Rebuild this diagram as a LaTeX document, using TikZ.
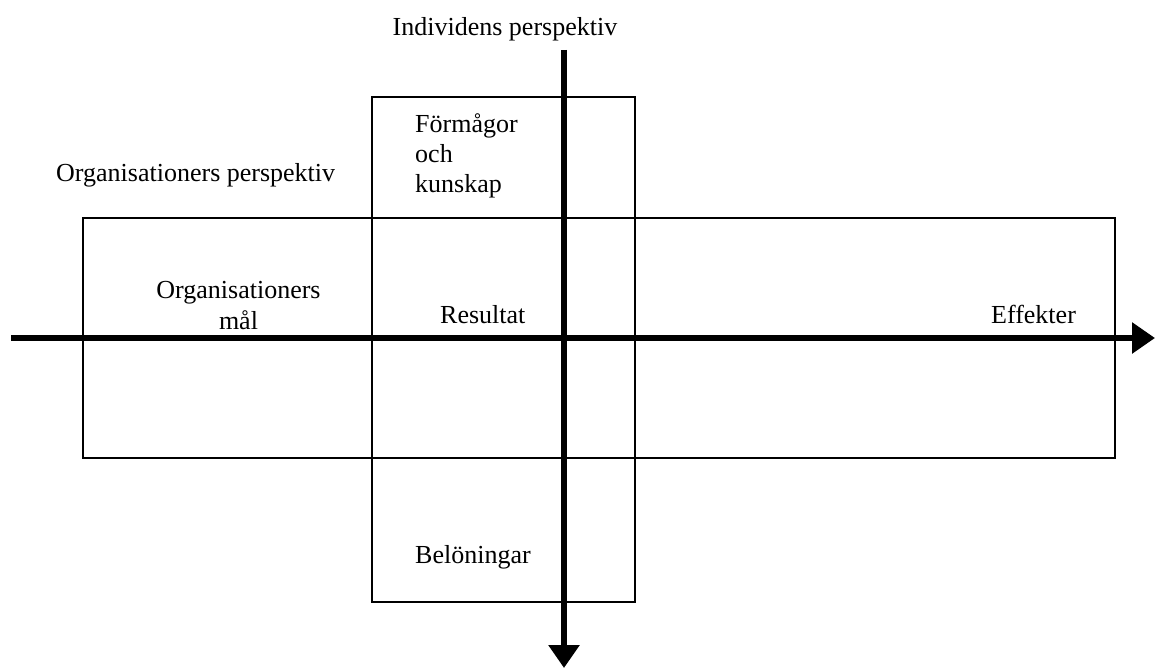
\documentclass[tikz,border=0pt]{standalone}
\usepackage{fontspec}
\setmainfont{Liberation Serif}
\usetikzlibrary{arrows.meta}
\begin{document}
\begin{tikzpicture}[x=1pt,y=-1pt,
  frame/.style={draw=black, line width=1.8pt, fill=none, inner sep=0pt},
  axis/.style={line width=6pt, -{Triangle[length=23pt,width=30pt]}},
  lbl/.style={inner sep=0pt, font=\fontsize{26}{30}\selectfont}]
\useasboundingbox (0,0) rectangle (1155,669);

% the two crossing frames
\node[frame, minimum width=1032pt, minimum height=240pt] (wide) at (599,338) {};
\node[frame, minimum width=263pt, minimum height=505pt] (tall) at (503.5,349.5) {};

% axes
\coordinate (hstart) at (11,338);
\coordinate (hend) at (1155,338);
\coordinate (vstart) at (564,50);
\coordinate (vend) at (564,668);
\draw[axis] (hstart) -- (hend);
\draw[axis] (vstart) -- (vend);

% labels
\node[lbl, anchor=base] (indiv) at (505,36) {Individens perspektiv};
\node[lbl, anchor=base west] (orgp) at (56,181) {Organisationers perspektiv};
\node[lbl, anchor=base west] (form1) at (415,132) {Förmågor};
\node[lbl, anchor=base west] (form2) at (415,162) {och};
\node[lbl, anchor=base west] (form3) at (415,192) {kunskap};
\node[lbl, anchor=base] (orgm1) at (238.5,298) {Organisationers};
\node[lbl, anchor=base] (orgm2) at (238.5,329) {mål};
\node[lbl, anchor=base west] (res) at (440,323) {Resultat};
\node[lbl, anchor=base west] (eff) at (991,323) {Effekter};
\node[lbl, anchor=base west] (bel) at (415,563) {Belöningar};
\end{tikzpicture}
\end{document}
